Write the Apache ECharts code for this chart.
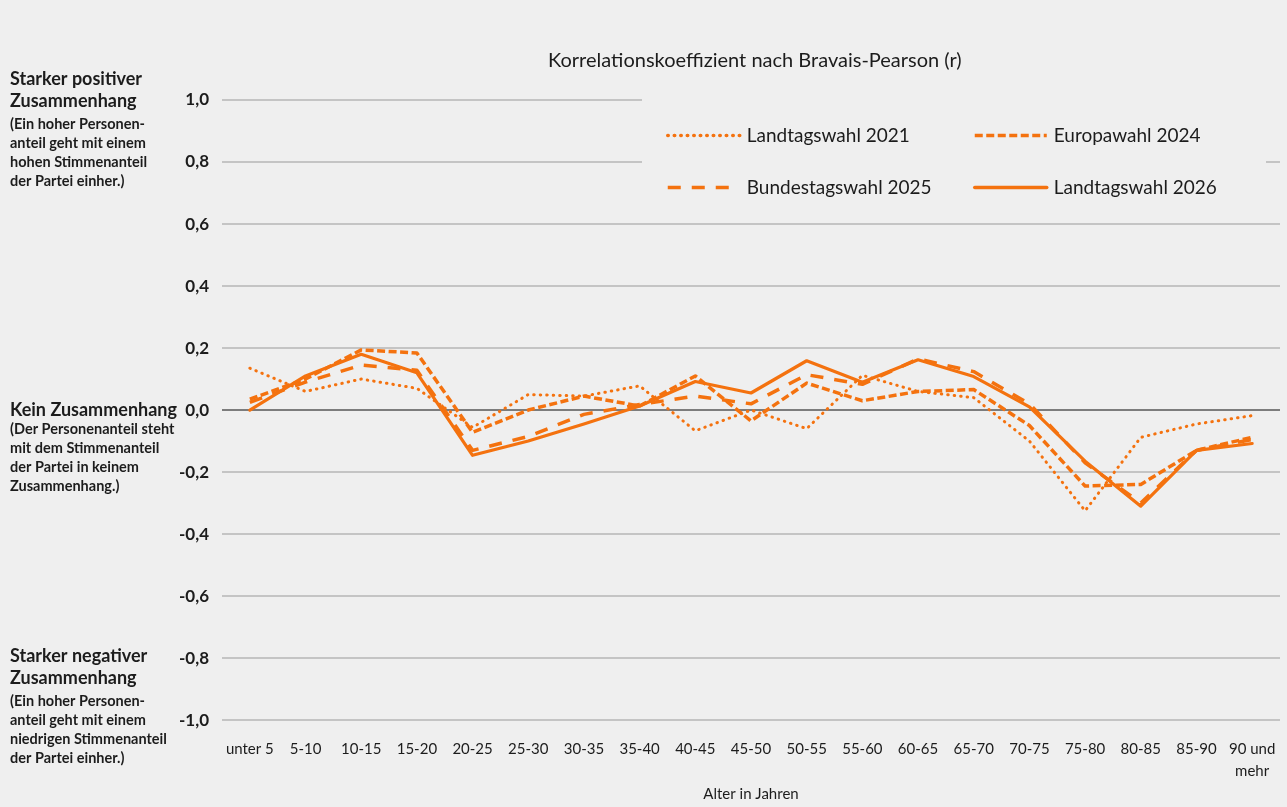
<!DOCTYPE html>
<html>
<head>
<meta charset="utf-8">
<script src="https://cdn.jsdelivr.net/npm/echarts@6/dist/echarts.min.js"></script>
<style>
  html, body { margin: 0; padding: 0; background: #efefef; }
  #chart { width: 1287px; height: 807px; }
</style>
</head>
<body>
<div id="chart"></div>
<script>
// Altersgruppen (Kategorien der x-Achse)
const ageGroups = ['unter 5', '5-10', '10-15', '15-20', '20-25', '25-30', '30-35', '35-40', '40-45',
  '45-50', '50-55', '55-60', '60-65', '65-70', '70-75', '75-80', '80-85', '85-90', '90 und\nmehr'];

// Korrelationskoeffizient r je Wahl
const landtagswahl2021 = [0.135, 0.06, 0.10, 0.07, -0.056, 0.05, 0.045, 0.078, -0.067, 0.0, -0.06, 0.112, 0.06, 0.04, -0.10, -0.325, -0.088, -0.045, -0.018];
const europawahl2024 = [0.035, 0.10, 0.194, 0.184, -0.072, 0.0, 0.045, 0.013, 0.11, -0.035, 0.087, 0.03, 0.06, 0.066, -0.05, -0.245, -0.24, -0.13, -0.088];
const bundestagswahl2025 = [0.025, 0.09, 0.145, 0.128, -0.13, -0.085, -0.014, 0.018, 0.045, 0.02, 0.114, 0.083, 0.165, 0.124, 0.02, -0.17, -0.30, -0.13, -0.095];
const landtagswahl2026 = [0.0, 0.11, 0.18, 0.12, -0.146, -0.10, -0.045, 0.013, 0.092, 0.055, 0.159, 0.09, 0.162, 0.108, 0.01, -0.165, -0.31, -0.13, -0.108];

// Achsenbereich der y-Achse
const yMin = -1.0, yMax = 1.0, yStep = 0.2;

const ORANGE = '#f4720f';
const TEXT = '#1c1c1c';
const FONT = 'Lato, "Open Sans", sans-serif';

const chart = echarts.init(document.getElementById('chart'), null, { renderer: 'canvas' });

function lineSeries(name, data, type, width, cap) {
  return {
    name, type: 'line', data,
    symbol: 'none',
    z: 3,
    lineStyle: { color: ORANGE, width, type, cap, join: 'round' },
    itemStyle: { color: ORANGE }
  };
}

const legendCommon = {
  orient: 'vertical',
  top: 121,
  itemWidth: 72,
  itemHeight: 14,
  itemGap: 33,
  selectedMode: false,
  itemStyle: { opacity: 0 },
  lineStyle: { width: 3.5 },
  textStyle: { fontFamily: FONT, fontSize: 19, color: TEXT, padding: [0, 0, 0, 2] }
};

const sideText = (x, y, text, size, weight, lh) => ({
  type: 'text', left: x, top: y, z: 10,
  style: { text, fill: TEXT, font: `${weight} ${size}px ${FONT}`, lineHeight: lh }
});

chart.setOption({
  backgroundColor: '#efefef',
  animation: false,
  grid: { left: 222, right: 7, top: 100, bottom: 78 },
  legend: [
    Object.assign({ left: 661, data: ['Landtagswahl 2021', 'Bundestagswahl 2025'] }, legendCommon),
    Object.assign({ left: 968, data: ['Europawahl 2024', 'Landtagswahl 2026'] }, legendCommon)
  ],
  xAxis: {
    type: 'category',
    data: ageGroups,
    boundaryGap: true,
    axisLine: { show: false },
    axisTick: { show: false },
    axisLabel: {
      interval: 0, margin: 18, fontFamily: FONT, fontSize: 15, color: TEXT,
      lineHeight: 22, align: 'center'
    },
    name: 'Alter in Jahren',
    nameLocation: 'middle',
    nameGap: 58,
    nameTextStyle: { fontFamily: FONT, fontSize: 15, color: TEXT }
  },
  yAxis: {
    type: 'value',
    min: yMin, max: yMax, interval: yStep,
    axisLine: { show: false },
    axisTick: { show: false },
    axisLabel: {
      margin: 13, fontFamily: FONT, fontSize: 17, fontWeight: 'bold', color: TEXT,
      formatter: v => v.toFixed(1).replace('.', ',')
    },
    splitLine: {
      lineStyle: {
        width: 2,
        color: ['#c4c4c4', '#c4c4c4', '#c4c4c4', '#c4c4c4', '#c4c4c4', '#7c7c7c',
                '#c4c4c4', '#c4c4c4', '#c4c4c4', '#c4c4c4', '#c4c4c4']
      }
    }
  },
  graphic: [
    // Hintergrundfläche der Legende
    { type: 'rect', shape: { x: 642, y: 92, width: 645, height: 20 }, z: 1,
      style: { fill: '#efefef' } },
    { type: 'rect', shape: { x: 642, y: 112, width: 624, height: 100 }, z: 1,
      style: { fill: '#efefef' } },
    { type: 'text', left: 548, top: 51, z: 10,
      style: { text: 'Korrelationskoeffizient nach Bravais-Pearson (r)', fill: TEXT,
               font: `normal 20px ${FONT}` } },
    sideText(10, 68, 'Starker positiver\nZusammenhang', 18, 'bold', 22),
    sideText(10, 115, '(Ein hoher Personen-\nanteil geht mit einem\nhohen Stimmenanteil\nder Partei einher.)', 14.5, 'bold', 19),
    sideText(10, 399, 'Kein Zusammenhang', 18, 'bold', 22),
    sideText(10, 420, '(Der Personenanteil steht\nmit dem Stimmenanteil\nder Partei in keinem\nZusammenhang.)', 14.5, 'bold', 19),
    sideText(10, 645, 'Starker negativer\nZusammenhang', 18, 'bold', 22),
    sideText(10, 692, '(Ein hoher Personen-\nanteil geht mit einem\nniedrigen Stimmenanteil\nder Partei einher.)', 14.5, 'bold', 19)
  ],
  series: [
    lineSeries('Landtagswahl 2021', landtagswahl2021, [0.5, 6], 3, 'round'),
    lineSeries('Europawahl 2024', europawahl2024, [8, 3.5], 3.5, 'butt'),
    lineSeries('Bundestagswahl 2025', bundestagswahl2025, [13, 11], 3.5, 'butt'),
    lineSeries('Landtagswahl 2026', landtagswahl2026, 'solid', 3.2, 'round')
  ]
});
</script>
</body>
</html>
